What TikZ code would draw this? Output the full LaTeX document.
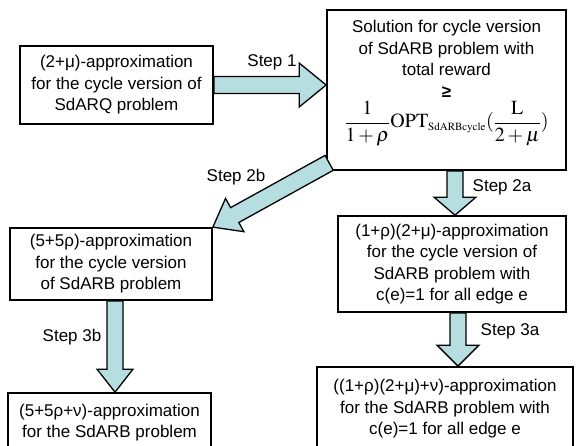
\documentclass[tikz,border=0pt]{standalone}
\usepackage{mathptmx}
\usepackage[no-math]{fontspec}
\setmainfont{Liberation Sans}
\usetikzlibrary{calc}
\definecolor{arrfill}{RGB}{182,222,224}
\tikzset{
  box/.style={draw=black, line width=1.7pt, fill=white, align=center, inner sep=0pt,
    font=\fontsize{17}{21.5}\selectfont},
  txt/.style={align=center, inner sep=0pt, font=\fontsize{17}{21.5}\selectfont},
  lbl/.style={font=\fontsize{17}{21.5}\selectfont, inner sep=0pt},
  barrow/.style={draw=black, line width=1.3pt, fill=arrfill, line join=miter},
}
\newcommand\blockarr[5]{%
  \coordinate (hb) at ($(#2)!#5!(#1)$);
  \path[barrow] ($(#1)!#3!90:(#2)$) -- ($(hb)!#3!90:(#2)$) -- ($(hb)!#4!90:(#2)$) -- (#2)
    -- ($(hb)!#4!-90:(#2)$) -- ($(hb)!#3!-90:(#2)$) -- ($(#1)!#3!-90:(#2)$) -- cycle;
}
\begin{document}
\begin{tikzpicture}[x=1pt,y=-1pt]
\useasboundingbox (0,0) rectangle (576,445);
\clip (0,0) rectangle (576,445);
\fill[white] (0,0) rectangle (576,445);

\node[box, minimum width=193pt, minimum height=78pt] (A) at (116.5,85)
  {(2+μ)-approximation\\for the cycle version of\\SdARQ problem};
\node[box, minimum width=239pt, minimum height=160pt] (B) at (446.5,90) {};
\node[txt, anchor=north] (Bt) at (446.5,20)
  {Solution for cycle version\\of SdARB problem with\\total reward\\\textbf{≥}\\[3pt]
   {\fontsize{20}{24}\selectfont$\displaystyle\frac{1}{1+\rho}\mathrm{OPT}_{\hbox{\fontsize{11}{11}\selectfont$\mathrm{SdARBcycle}$}}(\frac{\mathrm{L}}{2+\mu})$}};
\node[box, minimum width=202pt, minimum height=72pt] (C) at (111,264)
  {(5+5ρ)-approximation\\for the cycle version\\of SdARB problem};
\node[box, minimum width=228pt, minimum height=96pt] (D) at (452,264)
  {(1+ρ)(2+μ)-approximation\\for the cycle version of\\SdARB problem with\\c(e)=1 for all edge e};
\node[box, minimum width=203pt, minimum height=59pt] (E) at (109.5,422.5)
  {(5+5ρ+ν)-approximation\\for the SdARB problem};
\node[box, minimum width=256pt, minimum height=84pt] (F) at (445,409)
  {((1+ρ)(2+μ)+ν)-approximation\\for the SdARB problem with\\c(e)=1 for all edge e};

\coordinate (s1) at (A.east);
\coordinate (t1) at (B.west |- s1);
\coordinate (s2a) at ([xshift=8.5pt]B.south);
\coordinate (t2a) at (D.north -| s2a);
\coordinate (s2b) at ([shift={(3pt,8pt)}]B.south west);
\coordinate (t2b) at (C.north east);
\coordinate (s3b) at ([xshift=4pt]C.south);
\coordinate (t3b) at (E.north -| s3b);
\coordinate (s3a) at ([xshift=6pt]D.south);
\coordinate (t3a) at (F.north -| s3a);

\blockarr{s1}{t1}{8.5pt}{22pt}{27pt}
\blockarr{s2a}{t2a}{8pt}{21pt}{18pt}
\blockarr{s2b}{t2b}{8.5pt}{19pt}{25pt}
\blockarr{s3b}{t3b}{8pt}{18pt}{23pt}
\blockarr{s3a}{t3a}{8pt}{21pt}{21pt}

\node[lbl] (l1) at (272,62) {Step 1};
\node[lbl] (l2b) at (236,177) {Step 2b};
\node[lbl] (l2a) at (502,187) {Step 2a};
\node[lbl] (l3b) at (72,337) {Step 3b};
\node[lbl] (l3a) at (510,331) {Step 3a};
\end{tikzpicture}
\end{document}
